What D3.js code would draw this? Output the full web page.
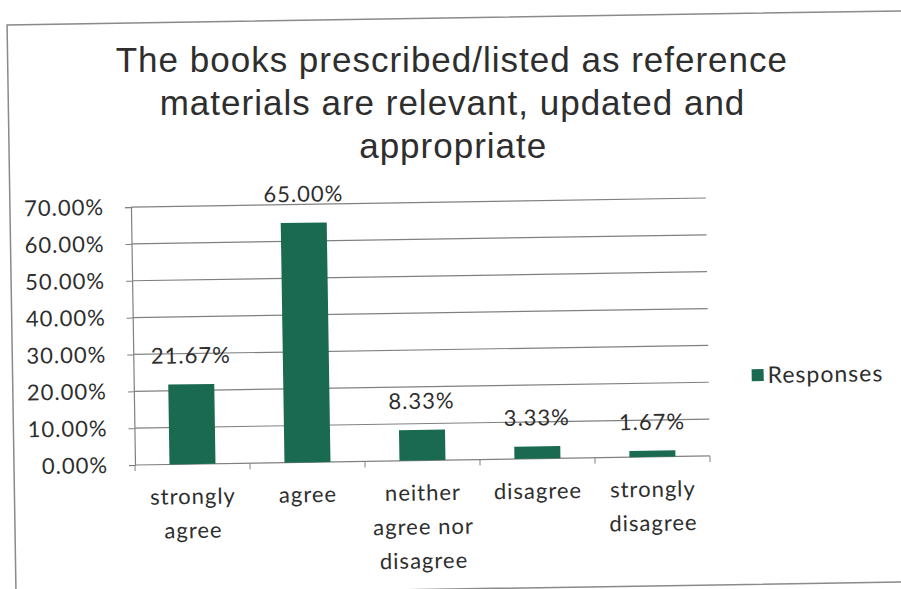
<!DOCTYPE html>
<html>
<head>
<meta charset="utf-8">
<script src="https://cdn.jsdelivr.net/npm/d3@7"></script>
<style>
  body { margin: 0; background: #fff; }
  svg { display: block; }
</style>
</head>
<body>
<div id="chart"></div>
<script>
const width = 901;
const height = 589;

// values
const categories = [
  ['strongly', 'agree'],
  ['agree'],
  ['neither', 'agree nor', 'disagree'],
  ['disagree'],
  ['strongly', 'disagree'],
];
const responses = [0.2167, 0.65, 0.0833, 0.0333, 0.0167];
const yTicks = [0, 0.1, 0.2, 0.3, 0.4, 0.5, 0.6, 0.7];
const titleLines = [
  'The books prescribed/listed as reference',
  'materials are relevant, updated and',
  'appropriate',
];
const seriesName = 'Responses';

const barColor = '#196a50';
const textColor = '#2e2e2e';
const gridColor = '#808080';
const labelFont = 'Lato, "Open Sans", sans-serif';

const plot = { left: 135, right: 710, top: 207, bottom: 465 };
const tilt = -0.9; // the scan is turned a little

const svg = d3.select('#chart').append('svg')
  .attr('width', width)
  .attr('height', height);

// everything but the title is turned round the plot origin
const g = svg.append('g')
  .attr('transform', `rotate(${tilt}, ${plot.left}, ${plot.bottom})`);

// where a point lands after the same turn
function turned(px, py) {
  const a = (tilt * Math.PI) / 180;
  const dx = px - plot.left;
  const dy = py - plot.bottom;
  return [
    plot.left + dx * Math.cos(a) - dy * Math.sin(a),
    plot.bottom + dx * Math.sin(a) + dy * Math.cos(a),
  ];
}

// chart frame
g.append('rect')
  .attr('x', 14).attr('y', 23)
  .attr('width', 910).attr('height', 571)
  .attr('fill', 'none')
  .attr('stroke', '#8a8a8a')
  .attr('stroke-width', 1.5);

// title, kept level so the lines don't collide
svg.append('g')
  .selectAll('text')
  .data(titleLines)
  .join('text')
  .attr('x', (d, i) => turned(458, 77 + i * 43)[0])
  .attr('y', (d, i) => turned(458, 77 + i * 43)[1])
  .attr('text-anchor', 'middle')
  .attr('font-family', '"Liberation Sans", Arial, sans-serif')
  .attr('font-size', 35)
  .attr('letter-spacing', 1)
  .attr('fill', textColor)
  .text((d) => d);

const x = d3.scaleBand()
  .domain(d3.range(categories.length))
  .range([plot.left, plot.right])
  .padding(0);

const y = d3.scaleLinear()
  .domain([0, 0.7])
  .range([plot.bottom, plot.top]);

// gridlines
g.append('g')
  .selectAll('line')
  .data(yTicks.slice(1))
  .join('line')
  .attr('x1', plot.left).attr('x2', plot.right)
  .attr('y1', (d) => y(d)).attr('y2', (d) => y(d))
  .attr('stroke', gridColor)
  .attr('stroke-width', 1.2);

// y axis
const yAxis = g.append('g')
  .attr('transform', `translate(${plot.left},0)`)
  .call(d3.axisLeft(y).tickValues(yTicks).tickSize(6).tickPadding(21)
    .tickFormat((d) => (d * 100).toFixed(2) + '%'));
yAxis.select('.domain').attr('stroke', gridColor).attr('stroke-width', 1.2);
yAxis.selectAll('.tick line').attr('stroke', gridColor);
yAxis.selectAll('.tick text')
  .attr('font-family', labelFont)
  .attr('font-size', 22)
  .attr('letter-spacing', 1)
  .attr('fill', textColor);

// x axis baseline and boundary ticks
g.append('line')
  .attr('x1', plot.left).attr('x2', plot.right)
  .attr('y1', plot.bottom).attr('y2', plot.bottom)
  .attr('stroke', gridColor)
  .attr('stroke-width', 1.2);
g.append('g')
  .selectAll('line')
  .data(d3.range(categories.length + 1))
  .join('line')
  .attr('x1', (i) => plot.left + i * x.step())
  .attr('x2', (i) => plot.left + i * x.step())
  .attr('y1', plot.bottom).attr('y2', plot.bottom + 6)
  .attr('stroke', gridColor);

// bars
const barW = x.bandwidth() * 0.4;
g.append('g')
  .selectAll('rect')
  .data(responses)
  .join('rect')
  .attr('x', (d, i) => x(i) + (x.bandwidth() - barW) / 2)
  .attr('y', (d) => y(d))
  .attr('width', barW)
  .attr('height', (d) => y(0) - y(d))
  .attr('fill', barColor);

// value labels
g.append('g')
  .selectAll('text')
  .data(responses)
  .join('text')
  .attr('x', (d, i) => x(i) + x.bandwidth() / 2)
  .attr('y', (d) => y(d) - 21)
  .attr('text-anchor', 'middle')
  .attr('font-family', labelFont)
  .attr('font-size', 22)
  .attr('letter-spacing', 1)
  .attr('fill', textColor)
  .text((d) => (d * 100).toFixed(2) + '%');

// category labels
g.append('g')
  .selectAll('text')
  .data(categories)
  .join('text')
  .attr('text-anchor', 'middle')
  .attr('font-family', labelFont)
  .attr('font-size', 22)
  .attr('letter-spacing', 1)
  .attr('fill', textColor)
  .each(function (lines, i) {
    d3.select(this).selectAll('tspan')
      .data(lines)
      .join('tspan')
      .attr('x', x(i) + x.bandwidth() / 2)
      .attr('y', (d, j) => 505 + j * 34)
      .text((d) => d);
  });

// legend
const legend = g.append('g').attr('transform', 'translate(753,379)');
legend.append('rect')
  .attr('width', 12).attr('height', 12)
  .attr('fill', barColor);
legend.append('text')
  .attr('x', 16).attr('y', 14)
  .attr('font-family', labelFont)
  .attr('font-size', 23)
  .attr('letter-spacing', 1)
  .attr('fill', textColor)
  .text(seriesName);
</script>
</body>
</html>
